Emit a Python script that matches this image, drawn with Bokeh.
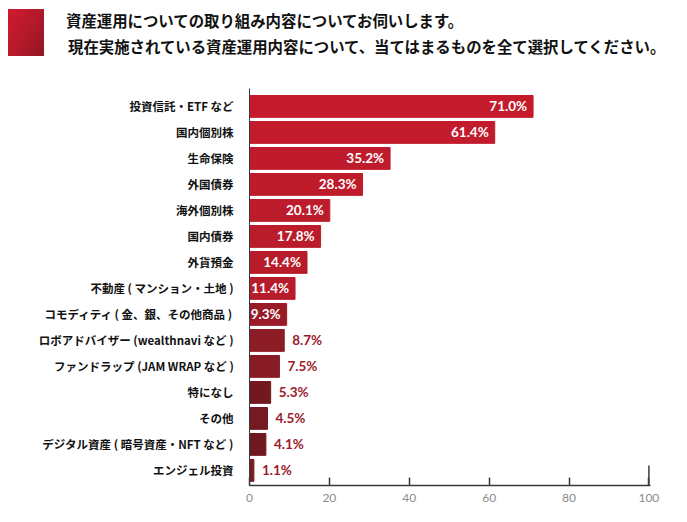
from bokeh.plotting import figure
from bokeh.models import Range1d, FixedTicker, ColumnDataSource, Div
from bokeh.layouts import column
from bokeh.core.properties import value
from bokeh.embed import file_html
from bokeh.resources import INLINE

# ---- data ----
title_lines = [
    "資産運用についての取り組み内容についてお伺いします。",
    "現在実施されている資産運用内容について、当てはまるものを全て選択してください。",
]
categories = [
    "投資信託・ETF など",
    "国内個別株",
    "生命保険",
    "外国債券",
    "海外個別株",
    "国内債券",
    "外貨預金",
    "不動産 ( マンション・土地 )",
    "コモディティ ( 金、銀、その他商品 )",
    "ロボアドバイザー (wealthnavi など )",
    "ファンドラップ (JAM WRAP など )",
    "特になし",
    "その他",
    "デジタル資産 ( 暗号資産・NFT など )",
    "エンジェル投資",
]
percentages = [71.0, 61.4, 35.2, 28.3, 20.1, 17.8, 14.4, 11.4, 9.3, 8.7, 7.5, 5.3, 4.5, 4.1, 1.1]
bar_colors = [
    "#c41a2c", "#c21b2c", "#c01b2c", "#be1c2b", "#bc1c2b", "#ba1c2b", "#b81c2b", "#b61c2b",
    "#9a1b28", "#8c1c26", "#881c26", "#741820", "#741a22", "#701820", "#7a1d24",
]
x_ticks = [0, 20, 40, 60, 80, 100]

FONT_JP = "Noto Sans CJK JP"
W = 687
HEAD_H = 70
CHART_H = 452

# ---- header (box + two title lines) ----
head_html = (
    f'<div style="position:relative;width:{W}px;height:{HEAD_H}px;">'
    '<div style="position:absolute;left:8px;top:9px;width:36px;height:47px;'
    'background:linear-gradient(120deg,#cf1b2e 0%,#b3192a 55%,#8e1723 100%);"></div>'
    f'<div style="position:absolute;left:66px;top:9px;line-height:22px;white-space:nowrap;'
    f'font-family:\'{FONT_JP}\';font-weight:bold;font-size:15.4px;color:#111;">{title_lines[0]}</div>'
    f'<div style="position:absolute;left:68px;top:35px;line-height:22px;white-space:nowrap;'
    f'font-family:\'{FONT_JP}\';font-weight:bold;font-size:15.4px;color:#111;">{title_lines[1]}</div>'
    '</div>'
)
head = Div(text=head_html, width=W, height=HEAD_H, margin=(0, 0, 0, 0))

# ---- chart ----
n = len(categories)
idx = list(range(n))
y_bottom = n - 1 + 0.58
p = figure(width=W, height=CHART_H, x_range=Range1d(0, 100.4), y_range=Range1d(y_bottom, -0.69),
           output_backend="svg", toolbar_location=None,
           min_border_left=249, min_border_right=37, min_border_top=18, min_border_bottom=37)
p.outline_line_color = None
p.grid.visible = False

src = ColumnDataSource(dict(y=idx, v=percentages, c=bar_colors))
p.hbar(y="y", left=0, right="v", height=0.84, fill_color="c", line_color="c", source=src)

inside = ColumnDataSource(dict(
    y=[i for i, v in zip(idx, percentages) if v >= 9.0],
    v=[v for v in percentages if v >= 9.0],
    t=[f"{v:.1f}%" for v in percentages if v >= 9.0]))
outside = ColumnDataSource(dict(
    y=[i for i, v in zip(idx, percentages) if v < 9.0],
    v=[v for v in percentages if v < 9.0],
    t=[f"{v:.1f}%" for v in percentages if v < 9.0]))
p.text(x="v", y="y", text="t", source=inside, x_offset=-6, text_align="right",
       text_baseline="middle", text_color="white", text_font=value("Lato"),
       text_font_style="bold", text_font_size="13.5px")
p.text(x="v", y="y", text="t", source=outside, x_offset=8, text_align="left",
       text_baseline="middle", text_color="#9b1b2a", text_font=value("Lato"),
       text_font_style="bold", text_font_size="13.5px")

# end mark of the x axis
p.segment(x0=[x_ticks[-1]], x1=[x_ticks[-1]], y0=[y_bottom], y1=[y_bottom - 0.77],
          line_color="#3a3a3a", line_width=1.5)

xa = p.xaxis[0]
xa.ticker = FixedTicker(ticks=x_ticks)
xa.major_tick_in = 8
xa.major_tick_out = 0
xa.minor_tick_line_color = None
xa.axis_line_color = "#3a3a3a"
xa.axis_line_width = 1.5
xa.major_tick_line_color = "#3a3a3a"
xa.major_tick_line_width = 1.5
xa.major_label_text_color = "#8c8c8c"
xa.major_label_text_font = "Lato"
xa.major_label_text_font_size = "12px"
xa.major_label_standoff = 8

ya = p.yaxis[0]
ya.ticker = FixedTicker(ticks=idx)
ya.major_label_overrides = {i: c for i, c in zip(idx, categories)}
ya.major_tick_in = 0
ya.major_tick_out = 0
ya.minor_tick_line_color = None
ya.axis_line_color = "#3a3a3a"
ya.axis_line_width = 1
ya.major_label_text_font = FONT_JP
ya.major_label_text_font_style = "bold"
ya.major_label_text_font_size = "11.5px"
ya.major_label_text_color = "#111111"
ya.major_label_standoff = 16

layout = column(head, p, spacing=0)
open("out.html", "w").write(file_html(layout, INLINE))
